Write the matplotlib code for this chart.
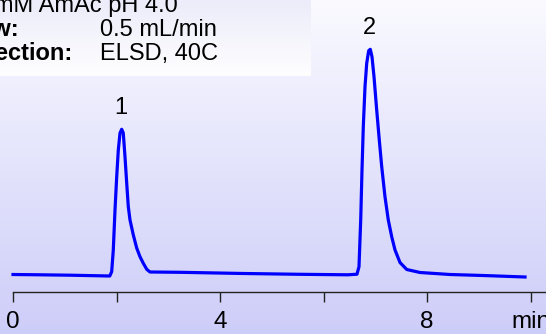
import numpy as np
import matplotlib

matplotlib.use("Agg")
import matplotlib.pyplot as plt

plt.rcParams["font.family"] = ["Liberation Sans", "DejaVu Sans"]

# chromatogram trace (time in min, detector response)
time_min = [0.00, 0.52, 1.10, 1.68, 1.87,
            1.907, 1.938, 1.971, 2.004, 2.035, 2.068, 2.100, 2.131, 2.164,
            2.197, 2.228, 2.261, 2.325, 2.390, 2.454, 2.518, 2.584, 2.647,
            3.227, 4.464, 5.546, 6.473, 6.647,
            6.686, 6.719, 6.744, 6.769, 6.802, 6.835, 6.873, 6.904, 6.937,
            6.976, 7.028, 7.078, 7.125, 7.188, 7.252, 7.318, 7.382, 7.478,
            7.608, 7.865, 8.444, 9.082, 9.894]
signal = [17.5, 17.2, 16.8, 16.2, 16.0,
          20.3, 42.0, 82.0, 115.3, 142.0, 159.0, 162.7, 159.0, 135.3,
          109.0, 85.3, 72.0, 57.0, 44.0, 35.3, 28.7, 22.7, 20.0,
          19.7, 18.5, 17.7, 17.2, 17.8,
          25.3, 72.0, 122.0, 165.3, 205.3, 228.7, 241.3, 242.7, 235.3,
          215.3, 182.0, 152.0, 125.3, 95.3, 72.0, 55.3, 42.0, 29.5,
          22.5, 19.5, 17.5, 16.5, 15.0]

peak_labels = ["1", "2"]
peak_times = [2.10, 6.90]

tick_values = [0, 2, 4, 6, 8, 10]
tick_labels = ["0", "", "4", "", "8", "min"]

conditions = [("Flow:", "0.5 mL/min"), ("Detection:", "ELSD, 40C")]
mobile_phase_tail = "10 mM AmAc pH 4.0"

W, H = 546, 334
fig = plt.figure(figsize=(W / 100, H / 100), dpi=100)

# background gradient + conditions box (pixel coordinates)
bg = fig.add_axes([0, 0, 1, 1], zorder=0)
bg.axis("off")
top = np.array([250, 250, 255]) / 255
bottom = np.array([205, 205, 249]) / 255
f = np.linspace(0, 1, 256)[:, None, None]
grad = top * (1 - f) + bottom * f
bg.imshow(grad, extent=(0, W, H, 0), aspect="auto", interpolation="bilinear")
box_top = np.array([236, 236, 250]) / 255
box_bot = np.array([254, 254, 255]) / 255
box = box_top * (1 - f) + box_bot * f
bg.imshow(box, extent=(0, 311, 76, 0), aspect="auto", interpolation="bilinear")
bg.set_xlim(0, W)
bg.set_ylim(H, 0)

fs = 17
bg.text(178, 12, mobile_phase_tail, ha="right", va="baseline", fontsize=fs,
        color="black")
for i, (key, val) in enumerate(conditions):
    yb = 36.5 + i * 23.5
    bg.text(-43, yb, key, ha="left", va="baseline", fontsize=fs,
            fontweight="bold", color="black", clip_on=False)
    bg.text(100, yb, val, ha="left", va="baseline", fontsize=fs, color="black")

# chromatogram axes: bottom spine sits at pixel row 292
ax = fig.add_axes([0, 42 / H, 1, 292 / H], zorder=1)
ax.patch.set_alpha(0)
x0 = -13 / 51.75
x1 = (W - 13) / 51.75
ax.set_xlim(x0, x1)
ax.set_ylim(0, 292)
ax.plot(time_min, signal, color="#0000ff", linewidth=2.3,
        solid_joinstyle="round")

t_arr = np.array(time_min)
s_arr = np.array(signal)
for lab, pt in zip(peak_labels, peak_times):
    k = int(np.argmin(np.abs(t_arr - pt)))
    ax.annotate(lab, (t_arr[k], s_arr[k]), xytext=(-0.5, 11),
                textcoords="offset points", ha="center", va="baseline",
                fontsize=17, color="black")

for side in ("top", "left", "right"):
    ax.spines[side].set_visible(False)
ax.spines["bottom"].set_color("#222222")
ax.spines["bottom"].set_linewidth(1.0)
ax.spines["bottom"].set_bounds(0, x1)
ax.set_yticks([])
ax.set_xticks(tick_values, tick_labels)
ax.tick_params(axis="x", direction="out", length=7.2, width=1.0,
               color="#222222", pad=6.5, labelsize=17.5, labelcolor="black")

fig.savefig("out.png", dpi=100)
